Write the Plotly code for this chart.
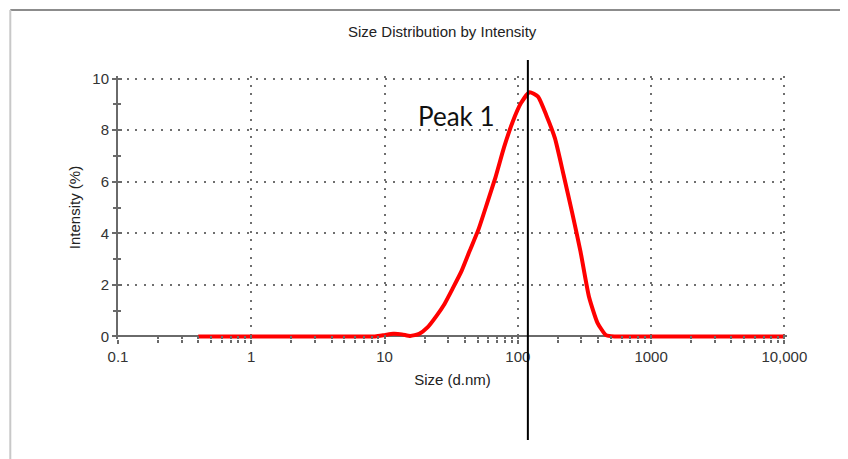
import plotly.graph_objects as go

# ---- data ----
size_nm = [0.4, 1, 3, 6, 8.5, 10, 11.6, 13.5, 15.6, 18.2, 21, 24.4, 28.2, 32.7, 37.8,
           43.8, 50.7, 58.8, 68.1, 78.8, 91.3, 105.7, 122.4, 141.8, 164.2, 190.1, 220.2,
           255, 295.3, 342, 396.1, 458.7, 531.2, 700, 1000, 3000, 10000]
intensity_pct = [0, 0, 0, 0, 0, 0.05, 0.1, 0.08, 0.02, 0.1, 0.35, 0.78, 1.26, 1.89, 2.53,
                 3.35, 4.15, 5.16, 6.18, 7.33, 8.31, 9.05, 9.47, 9.3, 8.56, 7.68, 6.28,
                 4.83, 3.3, 1.54, 0.53, 0.05, 0, 0, 0, 0, 0]

x_tickvals = [0.1, 1, 10, 100, 1000, 10000]
x_ticktext = ["0.1", "1", "10", "100", "1000", "10,000"]
y_tickvals = [0, 2, 4, 6, 8, 10]
peak_marker_nm = 119
peak_label = "Peak 1"

minor_x = [m * 10 ** e for e in range(-1, 4) for m in range(2, 10)]
minor_y = [1, 3, 5, 7, 9]

AX = "#6a6a6a"
GRID = "#6f6f6f"
GDASH = "2px,6.6px"
FONT = "Liberation Sans, Arial, sans-serif"

fig = go.Figure()
fig.add_trace(go.Scatter(x=size_nm, y=intensity_pct, mode="lines",
                         line=dict(color="#ff0000", width=4, shape="spline", smoothing=0.5),
                         showlegend=False, hoverinfo="x+y"))
# helper trace for overlay axes (inside ticks)
fig.add_trace(go.Scatter(x=[], y=[], xaxis="x2", yaxis="y2", showlegend=False, hoverinfo="skip"))

xr = [-1, 4.02]
yr = [-0.1, 10.1]

fig.update_layout(
    width=848, height=459,
    margin=dict(l=110, r=69, t=68, b=128),
    paper_bgcolor="white", plot_bgcolor="white",
    font=dict(family=FONT, size=15, color="#333"),
    title=dict(text="Size Distribution by Intensity", x=0.512, xanchor="center",
               y=0.948, yanchor="middle", font=dict(family=FONT, size=15, color="#222")),
    xaxis=dict(type="log", range=xr, tickmode="array", tickvals=x_tickvals, ticktext=x_ticktext,
               ticks="outside", ticklen=4, tickcolor=AX, tickwidth=1.5,
               minor=dict(tickmode="array", tickvals=minor_x, ticks="outside", ticklen=3,
                          tickcolor=AX, tickwidth=1.5, showgrid=False),
               showgrid=True, gridcolor=GRID, griddash=GDASH, gridwidth=2,
               showline=False, zeroline=False,
               title=dict(text="Size (d.nm)", font=dict(family=FONT, size=15, color="#222"), standoff=10),
               tickfont=dict(family=FONT, size=15, color="#333")),
    yaxis=dict(range=yr, tickmode="array", tickvals=y_tickvals,
               ticks="outside", ticklen=4, tickcolor=AX, tickwidth=1.5,
               minor=dict(tickmode="array", tickvals=minor_y, ticks="outside", ticklen=3,
                          tickcolor=AX, tickwidth=1.5, showgrid=False),
               showgrid=True, gridcolor=GRID, griddash=GDASH, gridwidth=2,
               showline=True, linecolor=AX, linewidth=2,
               zeroline=True, zerolinecolor=AX, zerolinewidth=1.5,
               title=dict(text="Intensity (%)", font=dict(family=FONT, size=15, color="#222"), standoff=8),
               tickfont=dict(family=FONT, size=15, color="#333")),
    xaxis2=dict(type="log", range=xr, overlaying="x", anchor="y", side="bottom",
                tickmode="array", tickvals=x_tickvals, showticklabels=False,
                ticks="inside", ticklen=4, tickcolor=AX, tickwidth=1.5,
                minor=dict(tickmode="array", tickvals=minor_x, ticks="inside", ticklen=3,
                           tickcolor=AX, tickwidth=1.5, showgrid=False),
                showgrid=False, showline=False, zeroline=False),
    yaxis2=dict(range=yr, overlaying="y", anchor="x", side="left",
                tickmode="array", tickvals=y_tickvals, showticklabels=False,
                ticks="inside", ticklen=4, tickcolor=AX, tickwidth=1.5,
                minor=dict(tickmode="array", tickvals=minor_y, ticks="inside", ticklen=3,
                           tickcolor=AX, tickwidth=1.5, showgrid=False),
                showgrid=False, showline=False, zeroline=False),
    annotations=[dict(x=1.54, y=8.55, xref="x", yref="y", text=peak_label, showarrow=False,
                      font=dict(family="Lato, sans-serif", size=26, color="#111"),
                      xanchor="center", yanchor="middle")],
    shapes=[
        dict(type="line", xref="x", yref="paper", x0=peak_marker_nm, x1=peak_marker_nm,
             y0=-0.384, y1=1.061, line=dict(color="black", width=2)),
        # outer frame (top and left edges)
        dict(type="line", xref="paper", yref="paper", x0=-0.161, x1=1.2, y0=1.251, y1=1.251,
             line=dict(color="#8c8c8c", width=2)),
        dict(type="line", xref="paper", yref="paper", x0=-0.161, x1=-0.161, y0=1.251, y1=-0.6,
             line=dict(color="#c8c8c8", width=2)),
    ],
)

fig.write_html("out.html")
